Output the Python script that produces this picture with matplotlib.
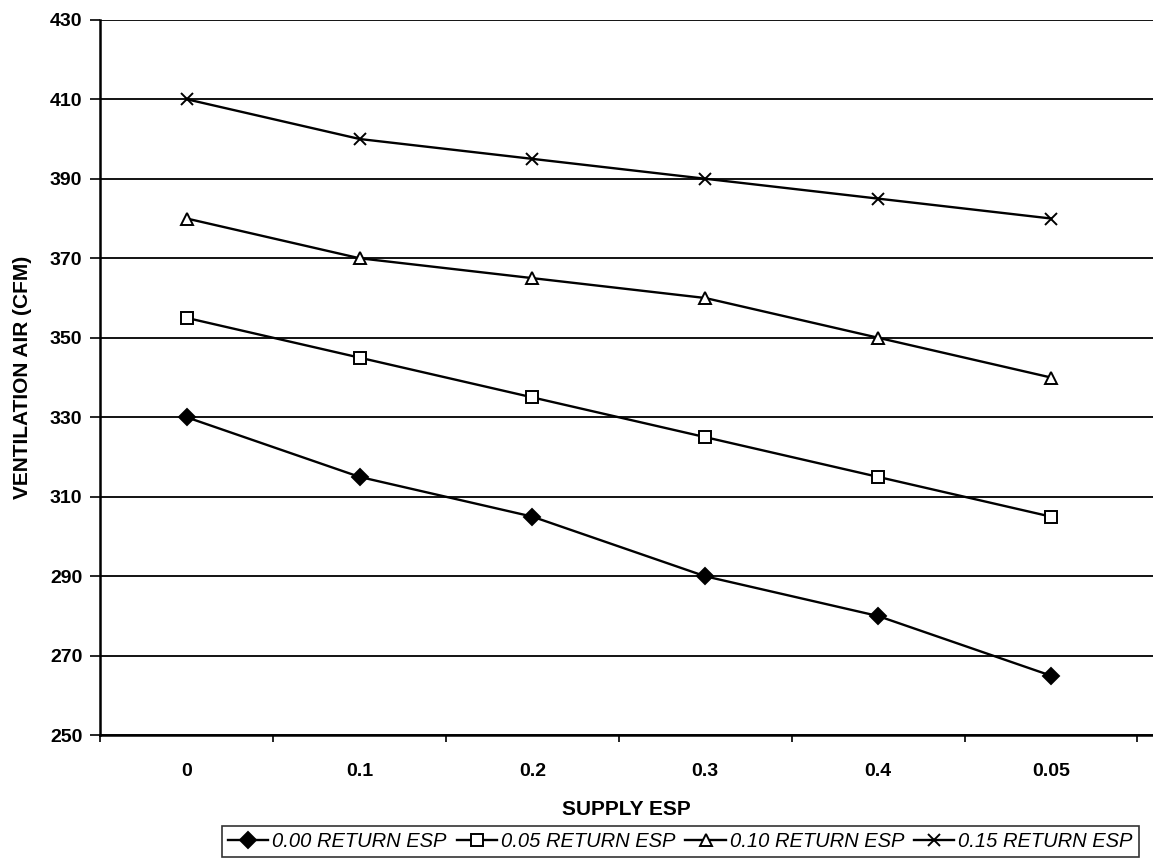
import matplotlib
matplotlib.use("Agg")
import matplotlib.pyplot as plt

# categories as printed on the chart (last label is 0.05 in the original)
supply_esp = ["0", "0.1", "0.2", "0.3", "0.4", "0.05"]

ret_000 = [330, 315, 305, 290, 280, 265]
ret_005 = [355, 345, 335, 325, 315, 305]
ret_010 = [380, 370, 365, 360, 350, 340]
ret_015 = [410, 400, 395, 390, 385, 380]

series = [
    ("0.00 RETURN ESP", ret_000, "D", "k"),
    ("0.05 RETURN ESP", ret_005, "s", "white"),
    ("0.10 RETURN ESP", ret_010, "^", "white"),
    ("0.15 RETURN ESP", ret_015, "x", "k"),
]

plt.rcParams['font.family'] = ['Liberation Sans', 'DejaVu Sans']

fig = plt.figure(figsize=(11.53, 8.58), dpi=100)
ax = fig.add_axes([0.087, 0.143, 0.913, 0.834])

x = list(range(len(supply_esp)))
for name, vals, mk, fc in series:
    ax.plot(x, vals, color="k", lw=1.7, marker=mk, markersize=8,
            markerfacecolor=fc, markeredgecolor="k", markeredgewidth=1.4,
            label=name)

ax.set_xlim(-0.5, len(supply_esp) - 0.41)
ax.set_ylim(250, 430)
ax.set_yticks(range(250, 431, 20))
ax.set_xticks(x)
ax.set_xticklabels(supply_esp)
ax.set_xticks([i - 0.5 for i in range(len(supply_esp) + 1)], minor=True)
ax.tick_params(axis="x", which="major", length=0, pad=20)
ax.tick_params(axis="x", which="minor", length=5, width=1.2)
ax.tick_params(axis="y", length=7, width=1.2, pad=6)
for lab in ax.get_xticklabels() + ax.get_yticklabels():
    lab.set_fontweight("bold")
    lab.set_fontsize(14)

ax.yaxis.grid(True, color="k", lw=1.3)
ax.set_axisbelow(True)
ax.spines["right"].set_visible(False)
ax.spines["top"].set_visible(False)
ax.spines["left"].set_linewidth(1.8)
ax.spines["bottom"].set_linewidth(1.8)

ax.set_xlabel("SUPPLY ESP", fontsize=15, fontweight="bold", labelpad=14)
ax.set_ylabel("VENTILATION AIR (CFM)", fontsize=15, fontweight="bold", labelpad=13)

leg = ax.legend(loc="upper center", bbox_to_anchor=(0.551, -0.127), ncol=4,
                frameon=True, fancybox=False, edgecolor="k", handlelength=2.0,
                handletextpad=0.2, columnspacing=0.5, borderpad=0.3,
                borderaxespad=0, prop={"style": "italic", "size": 14.5})
leg.get_frame().set_linewidth(1.2)

plt.savefig("out.png", dpi=100)
